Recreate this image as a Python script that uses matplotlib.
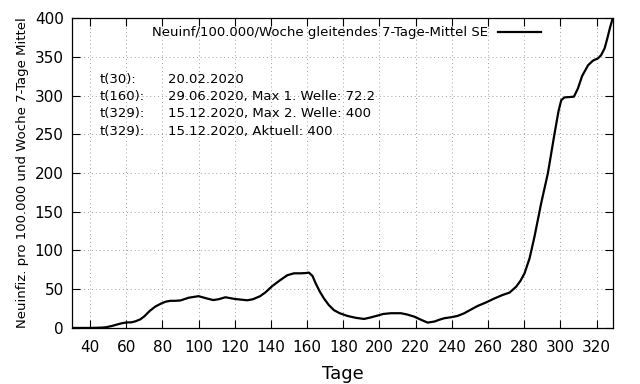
import matplotlib
matplotlib.use('Agg')
import matplotlib.pyplot as plt

# Tage seit Jahresbeginn / Neuinfektionen pro 100.000 pro Woche (7-Tage-Mittel)
tage = [30, 35, 40, 44, 47, 49, 52, 55, 57.5, 60, 63, 65, 67.7, 70, 73, 76, 79.7, 82, 84.3, 87, 90,
        94.5, 100, 104.6, 108, 111, 114.8, 120, 126.8, 130, 134, 137, 140.7, 145, 149, 152.7, 156.4,
        159, 161, 163, 164.7, 167, 169.3, 172, 174.8, 178, 182.3, 187, 191.5, 195, 198.9, 202, 206.3,
        211.8, 215, 219.2, 223, 226.6, 230.3, 233, 235.8, 240, 243.2, 246.9, 250, 254.3, 259, 263.5,
        268, 271.9, 275.6, 278, 280.2, 283, 285.7, 289.4, 293.1, 296.8, 299, 300.5, 302.3, 305, 307.5,
        309.7, 312, 315.3, 318, 320.8, 322.5, 324.5, 326, 327.5, 329]
werte = [0.0, 0.0, 0.0, 0.2, 0.5, 1.0, 2.5, 4.5, 6.0, 7.0, 7.3, 8.5, 11.0, 15.0, 22.0, 27.5, 32.0, 34.0,
         35.0, 35.0, 35.5, 39.0, 41.0, 38.0, 36.0, 37.0, 39.6, 37.4, 35.7, 37.0, 41.0, 46.0, 54.0, 61.5,
         68.0, 70.5, 70.5, 70.8, 71.4, 67.0, 57.6, 47.0, 38.0, 29.5, 23.0, 19.0, 15.5, 13.0, 11.6, 13.5,
         15.9, 18.0, 19.0, 19.0, 17.5, 14.6, 10.5, 6.9, 8.2, 10.5, 12.5, 14.0, 15.5, 19.0, 23.0, 28.4,
         33.0, 38.0, 42.5, 45.6, 53.3, 61.0, 70.5, 90.0, 117.8, 161.0, 199.6, 251.0, 280.0, 294.0, 297.6,
         298.0, 298.5, 309.0, 325.0, 339.0, 345.0, 348.0, 352.0, 361.0, 374.0, 388.0, 400.0]

infotext = [('t(30):', '20.02.2020'),
            ('t(160):', '29.06.2020, Max 1. Welle: 72.2'),
            ('t(329):', '15.12.2020, Max 2. Welle: 400'),
            ('t(329):', '15.12.2020, Aktuell: 400')]

plt.rcParams['font.family'] = 'DejaVu Sans'
fig = plt.figure(figsize=(6.4, 3.84), dpi=100)
ax = fig.add_axes([0.1125, 0.146, 0.845, 0.807])

ax.plot(tage, werte, color='black', lw=1.6, label='Neuinf/100.000/Woche gleitendes 7-Tage-Mittel SE')

ax.set_xlim(30, 329)
ax.set_ylim(0, 400)
ax.set_xticks(range(40, 330, 20))
ax.set_yticks(range(0, 401, 50))
ax.tick_params(direction='in', top=True, right=True, length=6, width=0.8, labelsize=11)
ax.tick_params(axis='x', pad=9)
ax.tick_params(axis='y', pad=6)
ax.grid(True, color='#a0a0a0', linestyle=(0, (1, 3)), linewidth=0.7)
for s in ax.spines.values():
    s.set_linewidth(0.9)

ax.set_xlabel('Tage', fontsize=13, labelpad=7)
ax.set_ylabel('Neuinfiz. pro 100.000 und Woche 7-Tage Mittel', fontsize=9.5)

leg = ax.legend(loc='upper center', bbox_to_anchor=(0.507, 1.012), frameon=False, fontsize=9.5,
                markerfirst=False, handlelength=3.2)

for i, (a, b) in enumerate(infotext):
    y = 0.802 - i * 0.0555
    ax.text(0.052, y, a, transform=ax.transAxes, fontsize=9.5, va='center')
    ax.text(0.178, y, b, transform=ax.transAxes, fontsize=9.5, va='center')

fig.savefig('out.png', dpi=100)
